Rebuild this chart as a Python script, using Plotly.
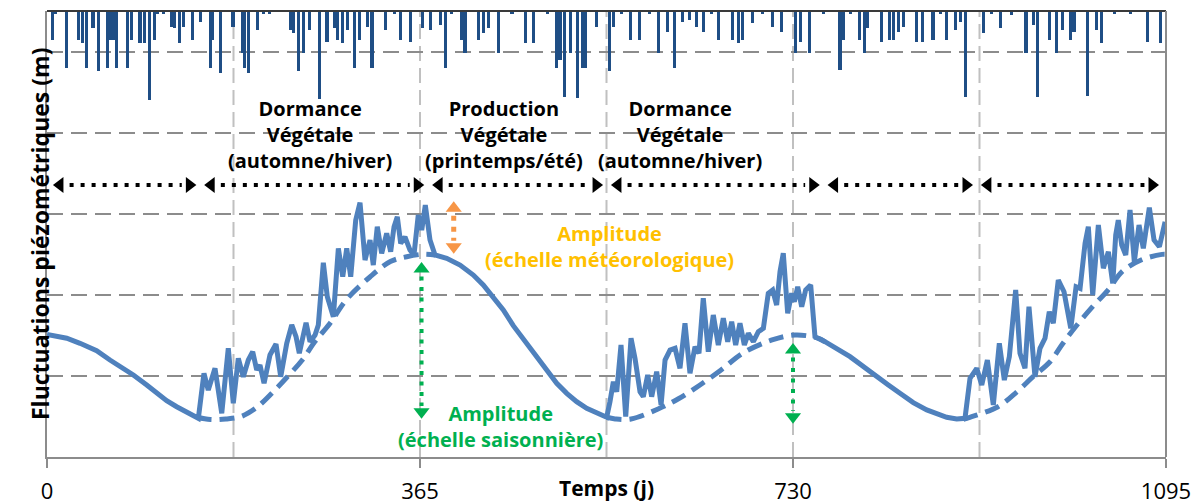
import plotly.graph_objects as go

# ---------------- data ----------------
# Rainfall (arbitrary mm scale), bars hanging from the top of the chart
rain_days = [5, 8, 19, 31, 35, 39, 45, 50, 59, 62, 65, 67, 68, 79, 83, 91, 95, 100, 105, 108,
             114, 122, 125, 130, 134, 142, 150, 160, 162, 170, 182, 191, 193, 197, 206, 212,
             218, 238, 241, 246, 251, 257, 267, 274, 281, 284, 289, 294, 301, 306, 314, 318,
             331, 340, 346, 356, 367, 375, 385, 390, 396, 406, 409, 422, 427, 432, 442, 455,
             468, 476, 490, 499, 502, 506, 512, 519, 524, 527, 538, 550, 554, 562, 571, 580,
             590, 598, 607, 614, 622, 629, 636, 642, 650, 657, 671, 677, 681, 690, 700, 710,
             719, 732, 737, 746, 760, 776, 779, 786, 795, 800, 803, 817, 824, 828, 833, 838,
             851, 857, 867, 874, 880, 889, 894, 899, 916, 924, 933, 944, 958, 965, 969, 981,
             988, 994, 1002, 1005, 1018, 1027, 1032, 1045, 1060, 1077, 1090]
rain_mm = [7.3, 0.7, 14.3, 7.3, 8.0, 14.3, 4.3, 15.0, 14.3, 7.3, 7.3, 7.3, 14.3, 14.3, 7.3, 8.0,
           8.0, 22.3, 7.3, 0.7, 0.7, 4.0, 4.3, 8.0, 4.0, 7.3, 2.8, 14.3, 7.3, 15.5, 4.0, 10.5,
           14.3, 15.5, 4.8, 0.7, 0.7, 4.8, 5.5, 15.0, 10.5, 4.8, 22.0, 7.8, 4.3, 7.3, 8.0, 4.8,
           14.3, 7.3, 4.0, 14.3, 4.8, 0.7, 7.3, 7.8, 4.3, 4.8, 3.5, 14.3, 0.7, 7.3, 10.5, 7.3,
           5.5, 4.3, 10.5, 0.7, 8.0, 8.0, 0.7, 14.3, 12.3, 21.5, 10.5, 21.8, 14.3, 14.3, 4.0,
           15.0, 4.0, 0.7, 7.3, 7.3, 0.7, 10.5, 5.3, 14.3, 2.8, 2.3, 4.0, 5.3, 0.7, 7.3, 7.3,
           8.0, 7.3, 3.0, 0.7, 4.0, 5.3, 10.5, 7.8, 10.5, 0.7, 14.8, 7.3, 0.7, 7.3, 10.5, 4.3,
           7.8, 7.3, 7.3, 5.3, 4.0, 7.8, 7.8, 7.3, 0.7, 7.3, 4.8, 2.8, 21.5, 5.5, 0.7, 4.3,
           1.0, 10.5, 3.5, 21.5, 7.3, 10.5, 4.8, 7.3, 5.3, 21.3, 4.8, 8.0, 0.7, 0.7, 7.8, 8.0]

# Observed piezometric level (m)
piezo_days = [0, 19.3, 32.3, 48.6, 61.6, 74.7, 84.5, 97.6, 107.3, 117.1, 126.9, 136.7, 146.5, 148.1,
              153.6, 157.8, 164.4, 171.0, 177.4, 182.3, 187.2, 192.1, 197.0, 201.3, 205.2, 208.4,
              212.4, 218.2, 224.1, 228.7, 234.6, 239.5, 243.7, 246.9, 253.5, 257.4, 262.3, 265.5,
              270.4, 274.3, 280.2, 285.1, 289.4, 293.3, 297.2, 302.1, 306.3, 311.2, 316.1, 319.3,
              323.2, 327.5, 332.4, 336.3, 339.6, 342.8, 346.1, 350.3, 355.2, 359.1, 363.3, 366.7,
              370.2, 374.8, 379.7,
              391.1, 404.2, 417.2, 426.9, 436.7, 446.5, 456.3, 469.4, 479.2, 489.0, 498.8, 508.6,
              518.3, 528.1, 537.9, 547.7,
              550.9, 554.2, 557.5, 561.7, 566.3, 571.5, 575.4, 580.3, 583.5, 587.8, 591.7, 596.6,
              600.9, 604.8, 609.7, 614.6, 619.4, 624.3, 629.2, 634.1, 638.0, 642.2, 647.1, 652.0,
              656.9, 661.8, 666.1, 670.0, 673.9, 678.1, 682.4, 686.3, 691.2, 696.1, 701.0, 705.8,
              710.1, 714.0, 717.3, 720.5, 724.8, 728.7, 731.3, 734.6, 738.5, 742.4, 747.3, 751.5,
              761.3, 766.2, 776.0, 785.8, 798.8, 811.9, 823.3, 834.7, 847.7, 860.9, 870.6, 880.4,
              890.2, 896.7, 898.3,
              903.2, 909.8, 914.7, 920.2, 926.0, 931.9, 936.8, 941.7, 947.9, 952.1, 957.0, 960.9,
              966.8, 971.7, 976.6, 980.8, 984.7, 989.6, 995.2, 1001.8, 1007.0, 1010.9, 1015.8,
              1019.0, 1023.3, 1028.8, 1033.7, 1038.6, 1042.9, 1045.8, 1048.3, 1051.7, 1055.6,
              1059.8, 1064.0, 1068.6, 1072.8, 1078.7, 1083.3, 1088.5, 1094.1]
piezo_vals = [1.51, 1.464, 1.402, 1.311, 1.196, 1.094, 1.011, 0.888, 0.785, 0.694, 0.620, 0.546, 0.490, 0.477,
              1.032, 0.826, 1.094, 0.539, 1.340, 0.662, 1.217, 0.990, 1.196, 1.298, 1.073, 1.134,
              0.909, 1.258, 1.393, 0.990, 1.402, 1.628, 1.483, 1.279, 1.656, 1.422, 1.504, 1.628,
              2.396, 1.977, 1.730, 2.573, 2.223, 2.573, 2.223, 2.922, 3.136, 2.429, 2.676, 2.367,
              2.840, 2.512, 2.758, 2.531, 2.840, 2.963, 2.635, 2.716, 2.552, 2.491, 2.984, 2.799,
              3.107, 2.676, 2.491,
              2.450, 2.367, 2.244, 2.121, 1.977, 1.813, 1.620, 1.400, 1.220, 1.073, 0.909, 0.785,
              0.682, 0.600, 0.539, 0.490,
              0.682, 0.928, 0.805, 1.381, 0.497, 1.464, 1.217, 0.805, 0.744, 1.011, 0.744, 1.052,
              0.641, 1.196, 1.319, 1.340, 1.094, 1.649, 1.032, 1.360, 1.279, 1.957, 1.298, 1.751,
              1.381, 1.710, 1.422, 1.668, 1.381, 1.649, 1.381, 1.525, 1.422, 1.545, 1.587, 2.018,
              2.059, 1.874, 2.285, 2.512, 1.772, 2.018, 1.915, 2.100, 1.853, 2.059, 2.121, 1.483,
              1.422, 1.381, 1.311, 1.237, 1.122, 0.990, 0.888, 0.785, 0.670, 0.580, 0.530, 0.490,
              0.469, 0.465, 0.477,
              0.970, 1.094, 0.888, 1.196, 0.641, 1.402, 0.949, 1.237, 2.059, 1.279, 1.094, 1.853,
              0.990, 1.340, 1.464, 1.792, 1.649, 2.183, 2.038, 1.587, 2.100, 2.080, 2.635,
              2.840, 1.998, 2.861, 2.327, 2.531, 2.142, 2.737, 2.922, 2.614, 2.491,
              3.046, 2.408, 2.861, 2.573, 3.074, 2.676, 2.593, 2.901]

# Seasonal trend (dashed where the observed level departs from it)
season_days = [146.5, 160, 175, 190, 205, 221, 236, 250, 262, 277, 293, 316, 336, 352, 368, 380, None,
               547.7, 556, 571.5, 598, 617.5, 639, 659.6, 681, 709.5, 732, 754.5, 761.3, None,
               896.7, 903, 930.6, 949.2, 964.9, 981.5, 994.2, 1007.9, 1024.6, 1038.3, 1052, 1070.6,
               1091.1, 1095]
season_vals = [0.49, 0.462, 0.47, 0.50, 0.61, 0.80, 1.0, 1.20, 1.42, 1.65, 1.94, 2.22, 2.41, 2.47, 2.50, 2.49, None,
               0.49, 0.47, 0.469, 0.592, 0.715, 0.888, 1.073, 1.282, 1.443, 1.504, 1.467, 1.422, None,
               0.465, 0.49, 0.62, 0.805, 0.99, 1.175, 1.402, 1.628, 1.874, 2.059, 2.285, 2.429,
               2.499, 2.50]

x_ticks = [0, 365, 730, 1095]
half_years = [182.5, 365, 547.5, 730, 912.5]
period_bounds = [2, 150, 373, 548, 760, 910, 1092]

# ---------------- styling ----------------
FONT = "Open Sans"
LINE_BLUE = "#4F81BD"
RAIN_BLUE = "#1F4E85"
GRID = "#8C8C8C"
GREEN = "#00B050"
ORANGE = "#F79646"
GOLD = "#FFC000"

PX_PER_DAY = 1119 / 1095.0
PX_PER_M = 446 / 5.5

fig = go.Figure()

fig.add_trace(go.Bar(x=rain_days, y=rain_mm, yaxis="y2", width=3,
                     marker=dict(color=RAIN_BLUE, line=dict(width=0)), showlegend=False,
                     hoverinfo="skip"))

fig.add_trace(go.Scatter(x=season_days, y=season_vals, mode="lines", connectgaps=False,
                         line=dict(color=LINE_BLUE, width=5, dash="15px,8px", shape="spline"),
                         showlegend=False, hoverinfo="skip"))

fig.add_trace(go.Scatter(x=piezo_days, y=piezo_vals, mode="lines",
                         line=dict(color=LINE_BLUE, width=5), showlegend=False,
                         hoverinfo="skip"))

shapes = []
for xv in half_years:
    shapes.append(dict(type="line", xref="x", yref="y", x0=xv, x1=xv, y0=0, y1=5.5,
                       line=dict(color="#C0C0C0", width=2, dash="15px,7px"), layer="below"))
# frame top and right
shapes.append(dict(type="line", xref="paper", yref="paper", x0=0, x1=1, y0=1, y1=1,
                   line=dict(color="#3A3A3A", width=2)))
shapes.append(dict(type="line", xref="paper", yref="paper", x0=1, x1=1, y0=0, y1=1,
                   line=dict(color=GRID, width=2)))

# black double-headed dotted arrows (periods)
ARROW_Y = (457 - 185) / PX_PER_M
head_size = 14
r = head_size / 2.0
tip_off = 1.414 * r / PX_PER_DAY
base_off = 1.914 * r / PX_PER_DAY
lx, rx = [], []
for i in range(len(period_bounds) - 1):
    a = period_bounds[i] + 1
    b = period_bounds[i + 1] - 1
    lx.append(a + tip_off)
    rx.append(b - tip_off)
    shapes.append(dict(type="line", xref="x", yref="y", x0=a + base_off + 6, x1=b - base_off - 4,
                       y0=ARROW_Y, y1=ARROW_Y, line=dict(color="black", width=4, dash="4px,7px")))
fig.add_trace(go.Scatter(x=lx, y=[ARROW_Y] * len(lx), mode="markers",
                         marker=dict(symbol="triangle-left", size=head_size, color="black"),
                         showlegend=False, hoverinfo="skip"))
fig.add_trace(go.Scatter(x=rx, y=[ARROW_Y] * len(rx), mode="markers",
                         marker=dict(symbol="triangle-right", size=head_size, color="black"),
                         showlegend=False, hoverinfo="skip"))


def vertical_arrow(xd, y_top, y_bot, color, dash, width):
    toff = 1.414 * r / PX_PER_M
    boff = 1.914 * r / PX_PER_M
    shapes.append(dict(type="line", xref="x", yref="y", x0=xd, x1=xd,
                       y0=y_top - boff - 0.05, y1=y_bot + boff + 0.03,
                       line=dict(color=color, width=width, dash=dash)))
    fig.add_trace(go.Scatter(x=[xd], y=[y_top - toff], mode="markers",
                             marker=dict(symbol="triangle-up", size=head_size, color=color),
                             showlegend=False, hoverinfo="skip"))
    fig.add_trace(go.Scatter(x=[xd], y=[y_bot + toff], mode="markers",
                             marker=dict(symbol="triangle-down", size=head_size, color=color),
                             showlegend=False, hoverinfo="skip"))


vertical_arrow(398, 3.19, 2.47, ORANGE, "5px,6px", 5)
vertical_arrow(366.5, 2.44, 0.435, GREEN, "4px,6.5px", 4)
vertical_arrow(730, 1.443, 0.374, GREEN, "4px,6.5px", 4)

annotations = [
    dict(x=257.4, y=3.98, xref="x", yref="y", showarrow=False,
         text="<b>Dormance<br>Végétale<br>(automne/hiver)</b>",
         font=dict(family=FONT, size=20, color="black")),
    dict(x=447.2, y=3.98, xref="x", yref="y", showarrow=False,
         text="<b>Production<br>Végétale<br>(printemps/été)</b>",
         font=dict(family=FONT, size=20, color="black")),
    dict(x=619.4, y=3.98, xref="x", yref="y", showarrow=False,
         text="<b>Dormance<br>Végétale<br>(automne/hiver)</b>",
         font=dict(family=FONT, size=20, color="black")),
    dict(x=550, y=2.60, xref="x", yref="y", showarrow=False,
         text="<b>Amplitude<br>(échelle météorologique)</b>",
         font=dict(family=FONT, size=20, color=GOLD)),
    dict(x=443.3, y=0.382, xref="x", yref="y", showarrow=False,
         text="<b>Amplitude<br>(échelle saisonnière)</b>",
         font=dict(family=FONT, size=20, color=GREEN)),
    dict(x=0.5, y=(457 - 488) / 446.0, xref="paper", yref="paper", showarrow=False,
         yanchor="middle", text="<b>Temps (j)</b>",
         font=dict(family=FONT, size=21, color="black")),
    dict(x=(22 - 47) / 1119.0, y=0.5, xref="paper", yref="paper", showarrow=False,
         textangle=-90, text="<b>Fluctuations piézométriques (m)</b>",
         font=dict(family=FONT, size=23, color="black")),
]

fig.update_layout(
    width=1203, height=504,
    margin=dict(l=47, r=37, t=11, b=47, autoexpand=False),
    paper_bgcolor="white", plot_bgcolor="white",
    showlegend=False,
    bargap=0,
    shapes=shapes,
    annotations=annotations,
    xaxis=dict(range=[0, 1095], tickvals=x_ticks, ticktext=[str(v) for v in x_ticks],
               showgrid=False, zeroline=False, showline=True, linecolor=GRID, linewidth=2,
               ticks="outside", ticklen=9, tickwidth=2, tickcolor=GRID,
               ticklabelstandoff=5, automargin=False,
               tickfont=dict(family=FONT, size=22, color="black")),
    yaxis=dict(range=[0, 5.5], tick0=0, dtick=1, showticklabels=False, ticks="",
               showgrid=True, gridcolor=GRID, gridwidth=2, griddash="16px,8px",
               zeroline=False, showline=True, linecolor=GRID, linewidth=2, automargin=False),
    yaxis2=dict(overlaying="y", range=[111.5, 0], visible=False, showgrid=False),
)

fig.write_html("out.html", config={"displayModeBar": False},
               post_script="document.body.style.margin='0';")
